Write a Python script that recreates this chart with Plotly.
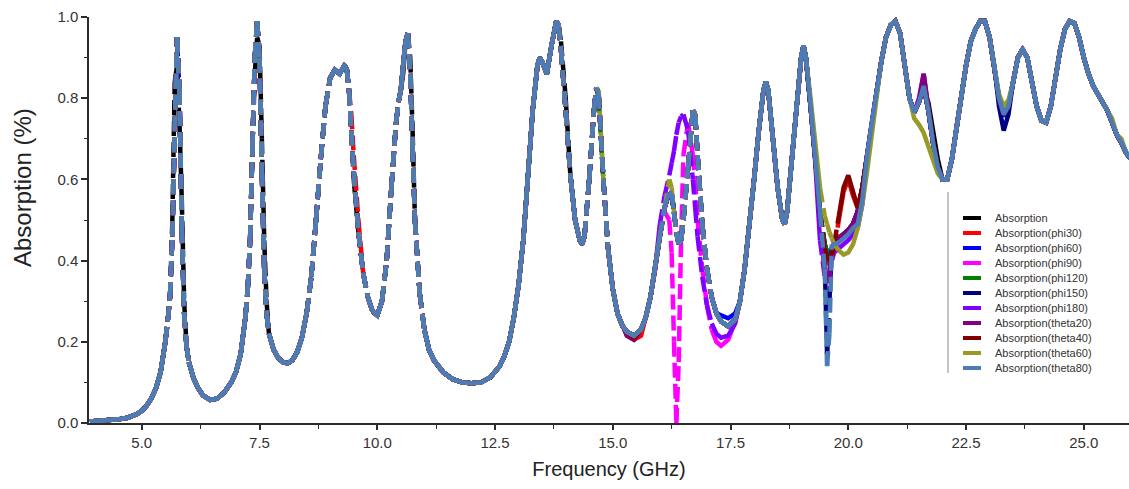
import plotly.graph_objects as go

# Frequency sweep (GHz) and the response shared by all incidence cases
FREQ_GHZ = [
    3.9, 4.2, 4.5, 4.7, 4.9, 5.0, 5.1, 5.2, 5.3, 5.4, 5.45, 5.5, 5.55, 5.6, 5.65,
    5.7, 5.75, 5.8, 5.85, 5.9, 5.95, 6.0, 6.1, 6.2, 6.3, 6.45, 6.6, 6.75, 6.9, 7.0,
    7.1, 7.2, 7.25, 7.3, 7.35, 7.4, 7.45, 7.5, 7.55, 7.6, 7.65, 7.7, 7.8, 7.9, 8.0,
    8.1, 8.2, 8.3, 8.4, 8.5, 8.6, 8.7, 8.8, 8.9, 9.0, 9.1, 9.2, 9.3, 9.35, 9.4,
    9.45, 9.5, 9.6, 9.7, 9.8, 9.9, 10.0, 10.1, 10.2, 10.3, 10.4, 10.45, 10.5, 10.55,
    10.6, 10.65, 10.7, 10.75, 10.8, 10.9, 11.0, 11.1, 11.2, 11.4, 11.6, 11.8, 12.0,
    12.2, 12.4, 12.6, 12.7, 12.8, 12.9, 13.0, 13.1, 13.2, 13.3, 13.4, 13.45, 13.5,
    13.6, 13.7, 13.8, 13.85, 13.9, 14.0, 14.1, 14.2, 14.3, 14.35, 14.4, 14.5, 14.6,
    14.65, 14.7, 14.8, 14.9, 15.0, 15.1, 15.2, 15.3, 15.45, 15.6, 15.7, 15.8, 15.9,
    16.0, 16.1, 16.2, 16.25, 16.3, 16.35, 16.4, 16.45, 16.5, 16.6, 16.7, 16.75, 16.8,
    16.9, 17.0, 17.1, 17.2, 17.3, 17.45, 17.6, 17.7, 17.8, 17.9, 18.0, 18.1, 18.2,
    18.25, 18.3, 18.4, 18.5, 18.6, 18.65, 18.7, 18.8, 18.9, 19.0, 19.05, 19.1, 19.2,
    19.3, 19.4, 19.5, 19.55, 19.6, 19.65, 19.7, 19.8, 19.9, 20.0, 20.1, 20.2, 20.3,
    20.4, 20.5, 20.6, 20.7, 20.8, 20.9, 21.0, 21.1, 21.2, 21.3, 21.4, 21.5, 21.6,
    21.7, 21.8, 21.9, 22.0, 22.1, 22.2, 22.3, 22.4, 22.5, 22.6, 22.7, 22.8, 22.9,
    23.0, 23.1, 23.2, 23.3, 23.4, 23.5, 23.6, 23.7, 23.8, 23.9, 24.0, 24.1, 24.2,
    24.3, 24.4, 24.5, 24.6, 24.7, 24.8, 24.9, 25.0, 25.1, 25.2, 25.3, 25.4, 25.5,
    25.6, 25.7, 25.8, 25.9, 26.0,
]
COMMON = [
    0.004, 0.006, 0.009, 0.013, 0.022, 0.03, 0.042, 0.06, 0.085, 0.125, 0.16, 0.2, 0.25, 0.31, 0.46,
    0.72, 0.95, 0.82, 0.48, 0.27, 0.19, 0.15, 0.11, 0.085, 0.068, 0.057, 0.06, 0.075, 0.1, 0.125,
    0.17, 0.26, 0.33, 0.45, 0.68, 0.9, 0.99, 0.9, 0.62, 0.38, 0.27, 0.22, 0.18, 0.16, 0.15,
    0.147, 0.155, 0.175, 0.21, 0.27, 0.36, 0.5, 0.65, 0.78, 0.85, 0.87, 0.86, 0.88, 0.875, 0.82,
    0.72, 0.62, 0.47, 0.37, 0.31, 0.275, 0.265, 0.3, 0.4, 0.58, 0.74, 0.79, 0.82, 0.88,
    0.94, 0.96, 0.86, 0.68, 0.5, 0.32, 0.23, 0.18, 0.155, 0.125, 0.108, 0.1, 0.098,
    0.1, 0.112, 0.14, 0.165, 0.2, 0.26, 0.34, 0.45, 0.6, 0.77, 0.88, 0.9, 0.89,
    0.86, 0.93, 0.99, 0.98, 0.92, 0.77, 0.61, 0.5, 0.45, 0.44, 0.46, 0.6, 0.77,
    0.825, 0.81, 0.6, 0.43, 0.33, 0.27, 0.24, 0.225, 0.215, 0.23, 0.26, 0.31, 0.38,
    0.46, 0.53, 0.57, 0.565, 0.52, 0.47, 0.44, 0.45, 0.5, 0.63, 0.77, 0.76, 0.66,
    0.49, 0.38, 0.31, 0.27, 0.25, 0.238, 0.255, 0.3, 0.38, 0.48, 0.6, 0.72, 0.82,
    0.84, 0.82, 0.7, 0.58, 0.5, 0.49, 0.52, 0.65, 0.8, 0.9, 0.93, 0.9, 0.78,
    0.64, 0.52, 0.44, 0.42, 0.42, 0.43, 0.44, 0.455, 0.465, 0.475, 0.49, 0.52, 0.58,
    0.66, 0.74, 0.82, 0.89, 0.95, 0.98, 0.99, 0.96, 0.88, 0.8, 0.765, 0.79, 0.83,
    0.77, 0.69, 0.63, 0.6, 0.6, 0.65, 0.73, 0.81, 0.88, 0.94, 0.97, 0.99, 0.99,
    0.95, 0.88, 0.8, 0.76, 0.78, 0.84, 0.9, 0.92, 0.9, 0.84, 0.78, 0.745, 0.74,
    0.78, 0.85, 0.92, 0.97, 0.99, 0.985, 0.95, 0.9, 0.86, 0.83, 0.81, 0.795, 0.77,
    0.74, 0.71, 0.69, 0.665, 0.65,
]

# Departures of each case from the common response (frequency -> absorption)
ABS_DEV = {5.65: 0.5, 5.7: 0.84, 5.75: 0.88, 5.8: 0.74, 5.85: 0.55, 5.9: 0.3,
           7.4: 0.86, 7.45: 0.95, 7.5: 0.93, 7.55: 0.7, 7.6: 0.45, 7.65: 0.3,
           9.5: 0.6, 10.55: 0.86, 10.7: 0.9, 10.75: 0.72, 13.9: 0.94, 14.0: 0.8,
           21.6: 0.82, 21.7: 0.79, 21.8: 0.72, 21.9: 0.65}
PHI30_DEV = {9.45: 0.76, 9.5: 0.66, 9.6: 0.5, 15.3: 0.215, 15.45: 0.205, 15.6: 0.215,
             19.5: 0.42, 19.55: 0.4, 19.6: 0.39, 19.65: 0.4, 19.7: 0.43, 19.8: 0.5,
             19.9: 0.57, 20.0: 0.6, 20.1: 0.56, 20.2: 0.53}
PHI60_DEV = {5.75: 0.94, 17.3: 0.265, 17.45: 0.258, 17.6: 0.27, 23.3: 0.755}
PHI90_DEV = {16.1: 0.52, 16.2: 0.5, 16.25: 0.42, 16.3: 0.2, 16.35: 0.0, 16.4: 0.15,
             16.45: 0.45, 16.5: 0.66, 16.6: 0.74, 16.7: 0.66, 16.75: 0.6, 16.8: 0.5,
             16.9: 0.38, 17.0: 0.29, 17.1: 0.23, 17.2: 0.2, 17.3: 0.19, 17.45: 0.205,
             17.6: 0.25, 19.5: 0.37, 19.55: 0.35, 19.6: 0.37, 19.7: 0.42, 19.8: 0.45}
PHI120_DEV = {14.7: 0.8}
PHI150_DEV = {19.5: 0.4, 19.55: 0.17, 19.6: 0.3, 23.2: 0.78, 23.3: 0.72, 23.4: 0.76}
PHI180_DEV = {16.0: 0.49, 16.1: 0.56, 16.2: 0.61, 16.25: 0.64, 16.3: 0.67, 16.35: 0.71,
              16.4: 0.74, 16.45: 0.755, 16.5: 0.76, 16.6: 0.72, 16.7: 0.6, 16.75: 0.53,
              16.8: 0.46, 16.9: 0.36, 17.0: 0.29, 17.1: 0.245, 17.2: 0.22, 17.3: 0.21,
              17.45: 0.215, 17.6: 0.245, 19.4: 0.45, 19.5: 0.36, 19.55: 0.345,
              19.6: 0.36, 19.65: 0.4, 19.7: 0.42, 19.8: 0.43, 19.9: 0.44, 20.0: 0.45,
              20.1: 0.465, 20.2: 0.48, 20.3: 0.54, 21.5: 0.8, 21.6: 0.86}
THETA20_DEV = {15.3: 0.215, 15.45: 0.205, 19.5: 0.37, 19.55: 0.345, 19.6: 0.37,
               21.6: 0.86}
THETA40_DEV = {15.45: 0.21, 19.5: 0.43, 19.55: 0.41, 19.6: 0.4, 19.65: 0.41, 19.7: 0.44,
               19.8: 0.51, 19.9: 0.58, 20.0: 0.61, 20.1: 0.57, 20.2: 0.53, 20.3: 0.58}
THETA60_DEV = {14.7: 0.82, 16.2: 0.6, 16.25: 0.58, 19.2: 0.8, 19.3: 0.68, 19.4: 0.58,
               19.5: 0.51, 19.55: 0.49, 19.6: 0.47, 19.65: 0.455, 19.7: 0.44, 19.8: 0.425,
               19.9: 0.415, 20.0: 0.42, 20.1: 0.44, 20.2: 0.48, 20.3: 0.54, 20.4: 0.62,
               20.5: 0.71, 21.4: 0.75, 21.5: 0.735, 21.6: 0.715, 21.7: 0.68, 21.8: 0.645,
               21.9: 0.615, 23.2: 0.81, 23.3: 0.78, 23.4: 0.795, 25.6: 0.75, 25.8: 0.7,
               26.0: 0.66}
THETA80_DEV = {19.5: 0.38, 19.55: 0.14, 19.6: 0.22, 19.65: 0.44, 19.7: 0.44, 19.8: 0.445,
               19.9: 0.455, 20.0: 0.465, 20.1: 0.48, 20.2: 0.49, 20.3: 0.55}

SERIES_NAMES = ["Absorption", "Absorption(phi30)", "Absorption(phi60)", "Absorption(phi90)",
                "Absorption(phi120)", "Absorption(phi150)", "Absorption(phi180)",
                "Absorption(theta20)", "Absorption(theta40)", "Absorption(theta60)",
                "Absorption(theta80)"]
SERIES_DEVS = [ABS_DEV, PHI30_DEV, PHI60_DEV, PHI90_DEV, PHI120_DEV, PHI150_DEV,
               PHI180_DEV, THETA20_DEV, THETA40_DEV, THETA60_DEV, THETA80_DEV]
SERIES_COLORS = ["#000000", "#FF0000", "#0000FF", "#FF00FF", "#008000", "#000080",
                 "#8000FF", "#800080", "#800000", "#999926", "#4B7CB8"]

# Frequency spans where the sweep is coarse relative to the resonance,
# drawn segment by segment with a dash pattern
DASHED_SPANS = [(5.5, 6.0), (7.2, 7.7), (8.5, 9.0), (9.35, 9.9), (10.1, 10.5),
                (10.6, 11.0), (13.85, 14.1), (14.4, 14.9), (16.0, 17.1), (19.4, 19.8)]

# Plot-area geometry in pixels (figure 1129 x 489)
W, H = 1129, 489
L, R, T, B = 89, 0, 17, 66
PW, PH = W - L - R, H - T - B


def px_x(px):
    return (px - L) / PW


def px_y(py):
    return (H - B - py) / PH


def split_paths(freq, vals):
    sx, sy, dx, dy = [], [], [], []
    prev_solid = False
    for i in range(len(freq) - 1):
        f0, f1 = freq[i], freq[i + 1]
        dashed = any(a <= f0 and f1 <= b for a, b in DASHED_SPANS)
        if dashed:
            dx += [f0, f1, None]
            dy += [vals[i], vals[i + 1], None]
            prev_solid = False
        else:
            if not prev_solid:
                sx += [None, f0]
                sy += [None, vals[i]]
            sx.append(f1)
            sy.append(vals[i + 1])
            prev_solid = True
    return sx, sy, dx, dy


fig = go.Figure()
LINE_W = 4.5
for name, dev, color in zip(SERIES_NAMES, SERIES_DEVS, SERIES_COLORS):
    vals = [dev.get(f, c) for f, c in zip(FREQ_GHZ, COMMON)]
    sx, sy, dx, dy = split_paths(FREQ_GHZ, vals)
    fig.add_trace(go.Scatter(x=sx, y=sy, mode="lines", name=name, showlegend=False,
                             connectgaps=False, line=dict(color=color, width=LINE_W)))
    fig.add_trace(go.Scatter(x=dx, y=dy, mode="lines", name=name, showlegend=False,
                             connectgaps=False,
                             line=dict(color=color, width=LINE_W, dash="15px,6px")))

FONT = "Liberation Sans, Arial, sans-serif"
AXIS_COLOR = "#2b2b2b"

# Legend block drawn in the lower right of the plot area
shapes = [dict(type="line", xref="paper", yref="paper",
               x0=px_x(948), x1=px_x(948), y0=px_y(192), y1=px_y(373),
               line=dict(color="#8a8a8a", width=1))]
annotations = []
for i, (name, color) in enumerate(zip(SERIES_NAMES, SERIES_COLORS)):
    row_y = 218 + 15 * i
    shapes.append(dict(type="line", xref="paper", yref="paper",
                       x0=px_x(963), x1=px_x(981), y0=px_y(row_y), y1=px_y(row_y),
                       line=dict(color=color, width=4)))
    annotations.append(dict(xref="paper", yref="paper", x=px_x(993), y=px_y(row_y),
                            text=name, showarrow=False, xanchor="left", yanchor="middle",
                            font=dict(family=FONT, size=11, color="#333333")))

# Y-axis title, placed a little above the middle of the axis
annotations.append(dict(xref="paper", yref="paper", x=px_x(22), y=px_y(188),
                        text="Absorption (%)", showarrow=False, textangle=-90,
                        xanchor="center", yanchor="middle",
                        font=dict(family=FONT, size=24, color="#222222")))

fig.update_layout(
    width=W, height=H,
    margin=dict(l=L, r=R, t=T, b=B),
    paper_bgcolor="white", plot_bgcolor="white",
    shapes=shapes, annotations=annotations,
    showlegend=False,
    xaxis=dict(
        range=[3.88, 25.96], tick0=0, dtick=2.5, tickformat=".1f",
        showgrid=False, zeroline=False, showline=True, linecolor=AXIS_COLOR, linewidth=1.5,
        ticks="outside", ticklen=5, tickwidth=1.5, tickcolor=AXIS_COLOR,
        minor=dict(dtick=1.25, tick0=0, ticks="outside", ticklen=4, tickwidth=1.2,
                   tickcolor=AXIS_COLOR, showgrid=False),
        tickfont=dict(family=FONT, size=15, color="#333333"),
        title=dict(text="Frequency (GHz)", font=dict(family=FONT, size=20, color="#222222"),
                   standoff=12),
    ),
    yaxis=dict(
        range=[0, 1.0], tick0=0, dtick=0.2, tickformat=".1f",
        showgrid=False, zeroline=False, showline=True, linecolor=AXIS_COLOR, linewidth=1.5,
        ticks="outside", ticklen=6, tickwidth=1.5, tickcolor=AXIS_COLOR,
        minor=dict(dtick=0.1, tick0=0, ticks="outside", ticklen=3, tickwidth=1.2,
                   tickcolor=AXIS_COLOR, showgrid=False),
        tickfont=dict(family=FONT, size=15, color="#333333"),
    ),
)

fig.write_html("out.html")
